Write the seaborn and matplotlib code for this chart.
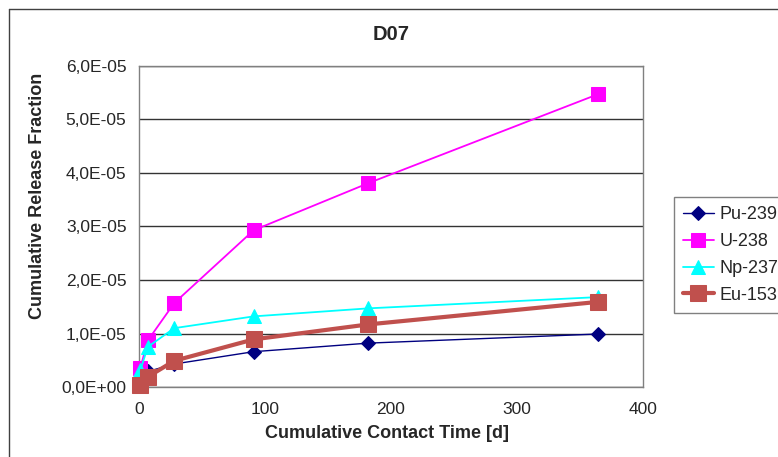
import pandas as pd
import numpy as np
import matplotlib
matplotlib.use("Agg")
import matplotlib.pyplot as plt
import matplotlib.ticker as mticker
from matplotlib.lines import Line2D
import seaborn as sns

# -----------------------------------------
# Data
# -----------------------------------------
time_days = [1, 7, 28, 91, 182, 364]
pu239 = [0.14e-5, 0.29e-5, 0.43e-5, 0.66e-5, 0.82e-5, 0.99e-5]
u238 = [0.35e-5, 0.87e-5, 1.57e-5, 2.93e-5, 3.81e-5, 5.47e-5]
np237 = [0.31e-5, 0.75e-5, 1.10e-5, 1.32e-5, 1.47e-5, 1.68e-5]
eu153 = [0.03e-5, 0.19e-5, 0.49e-5, 0.89e-5, 1.17e-5, 1.59e-5]

series_names = ["Pu-239", "U-238", "Np-237", "Eu-153"]
x_ticks = [0, 100, 200, 300, 400]
y_ticks = [0, 1e-5, 2e-5, 3e-5, 4e-5, 5e-5, 6e-5]

df = pd.DataFrame({
    "time": time_days * 4,
    "value": pu239 + u238 + np237 + eu153,
    "nuclide": [n for n in series_names for _ in time_days],
})

# style per series: colour, marker, marker size, line width
styles = {
    "Pu-239": ("#000080", "D", 7, 1.0),
    "U-238": ("#FF00FF", "s", 10, 1.3),
    "Np-237": ("#00FFFF", "^", 10, 1.3),
    "Eu-153": ("#C0504D", "s", 11, 3.0),
}

sns.set_style("white")
plt.rcParams["font.family"] = ["Liberation Sans", "DejaVu Sans"]

fig = plt.figure(figsize=(7.78, 4.57), dpi=100)
W, H = 778, 457
ax = fig.add_axes([139 / W, 1 - 387 / H, (643 - 139) / W, (387 - 66) / H])

for name in series_names:
    color, marker, ms, lw = styles[name]
    sns.lineplot(data=df[df["nuclide"] == name], x="time", y="value",
                 color=color, marker=marker, markersize=ms, linewidth=lw,
                 markeredgecolor=color, label=name, ax=ax, zorder=3,
                 clip_on=False)

ax.set_xlim(0, 400)
ax.set_ylim(0, 6e-5)
ax.set_xticks(x_ticks)
ax.set_yticks(y_ticks)
ax.yaxis.set_major_formatter(
    mticker.FuncFormatter(lambda v, p: f"{v:.1E}".replace(".", ",")))
ax.grid(axis="y", color="#333333", linewidth=1.0)
ax.grid(axis="x", visible=False)
ax.set_axisbelow(True)
for s in ax.spines.values():
    s.set_color("#808080")
    s.set_linewidth(1.0)
ax.tick_params(axis="both", direction="out", length=4, width=1,
               color="#808080", labelsize=12.5, pad=5)
ax.tick_params(axis="x", pad=7)
ax.set_xlabel("")
ax.set_ylabel("")

# titles as figure text
fig.text(391 / W, 1 - 35 / H, "D07", ha="center", va="center",
         fontsize=14.5, fontweight="bold")
fig.text(387 / W, 1 - 434 / H, "Cumulative Contact Time [d]", ha="center",
         va="center", fontsize=13, fontweight="bold")
fig.text(38 / W, 1 - 196 / H, "Cumulative Release Fraction", ha="center",
         va="center", rotation=90, fontsize=13, fontweight="bold")

# legend
leg = ax.legend(loc="upper left", bbox_to_anchor=(674 / W, 1 - 197 / H),
                bbox_transform=fig.transFigure, borderaxespad=0,
                fontsize=13, frameon=True, fancybox=False, framealpha=1,
                edgecolor="#808080", handlelength=1.7, labelspacing=0.55,
                handletextpad=0.3, borderpad=0.5)
leg.get_frame().set_linewidth(1.0)

# outer chart border
fig.add_artist(Line2D([9 / W, 9 / W], [0, 1 - 9 / H], transform=fig.transFigure,
                      color="#404040", linewidth=1.0))
fig.add_artist(Line2D([9 / W, 1], [1 - 9 / H, 1 - 9 / H], transform=fig.transFigure,
                      color="#404040", linewidth=1.0))

fig.savefig("out.png", dpi=100)
